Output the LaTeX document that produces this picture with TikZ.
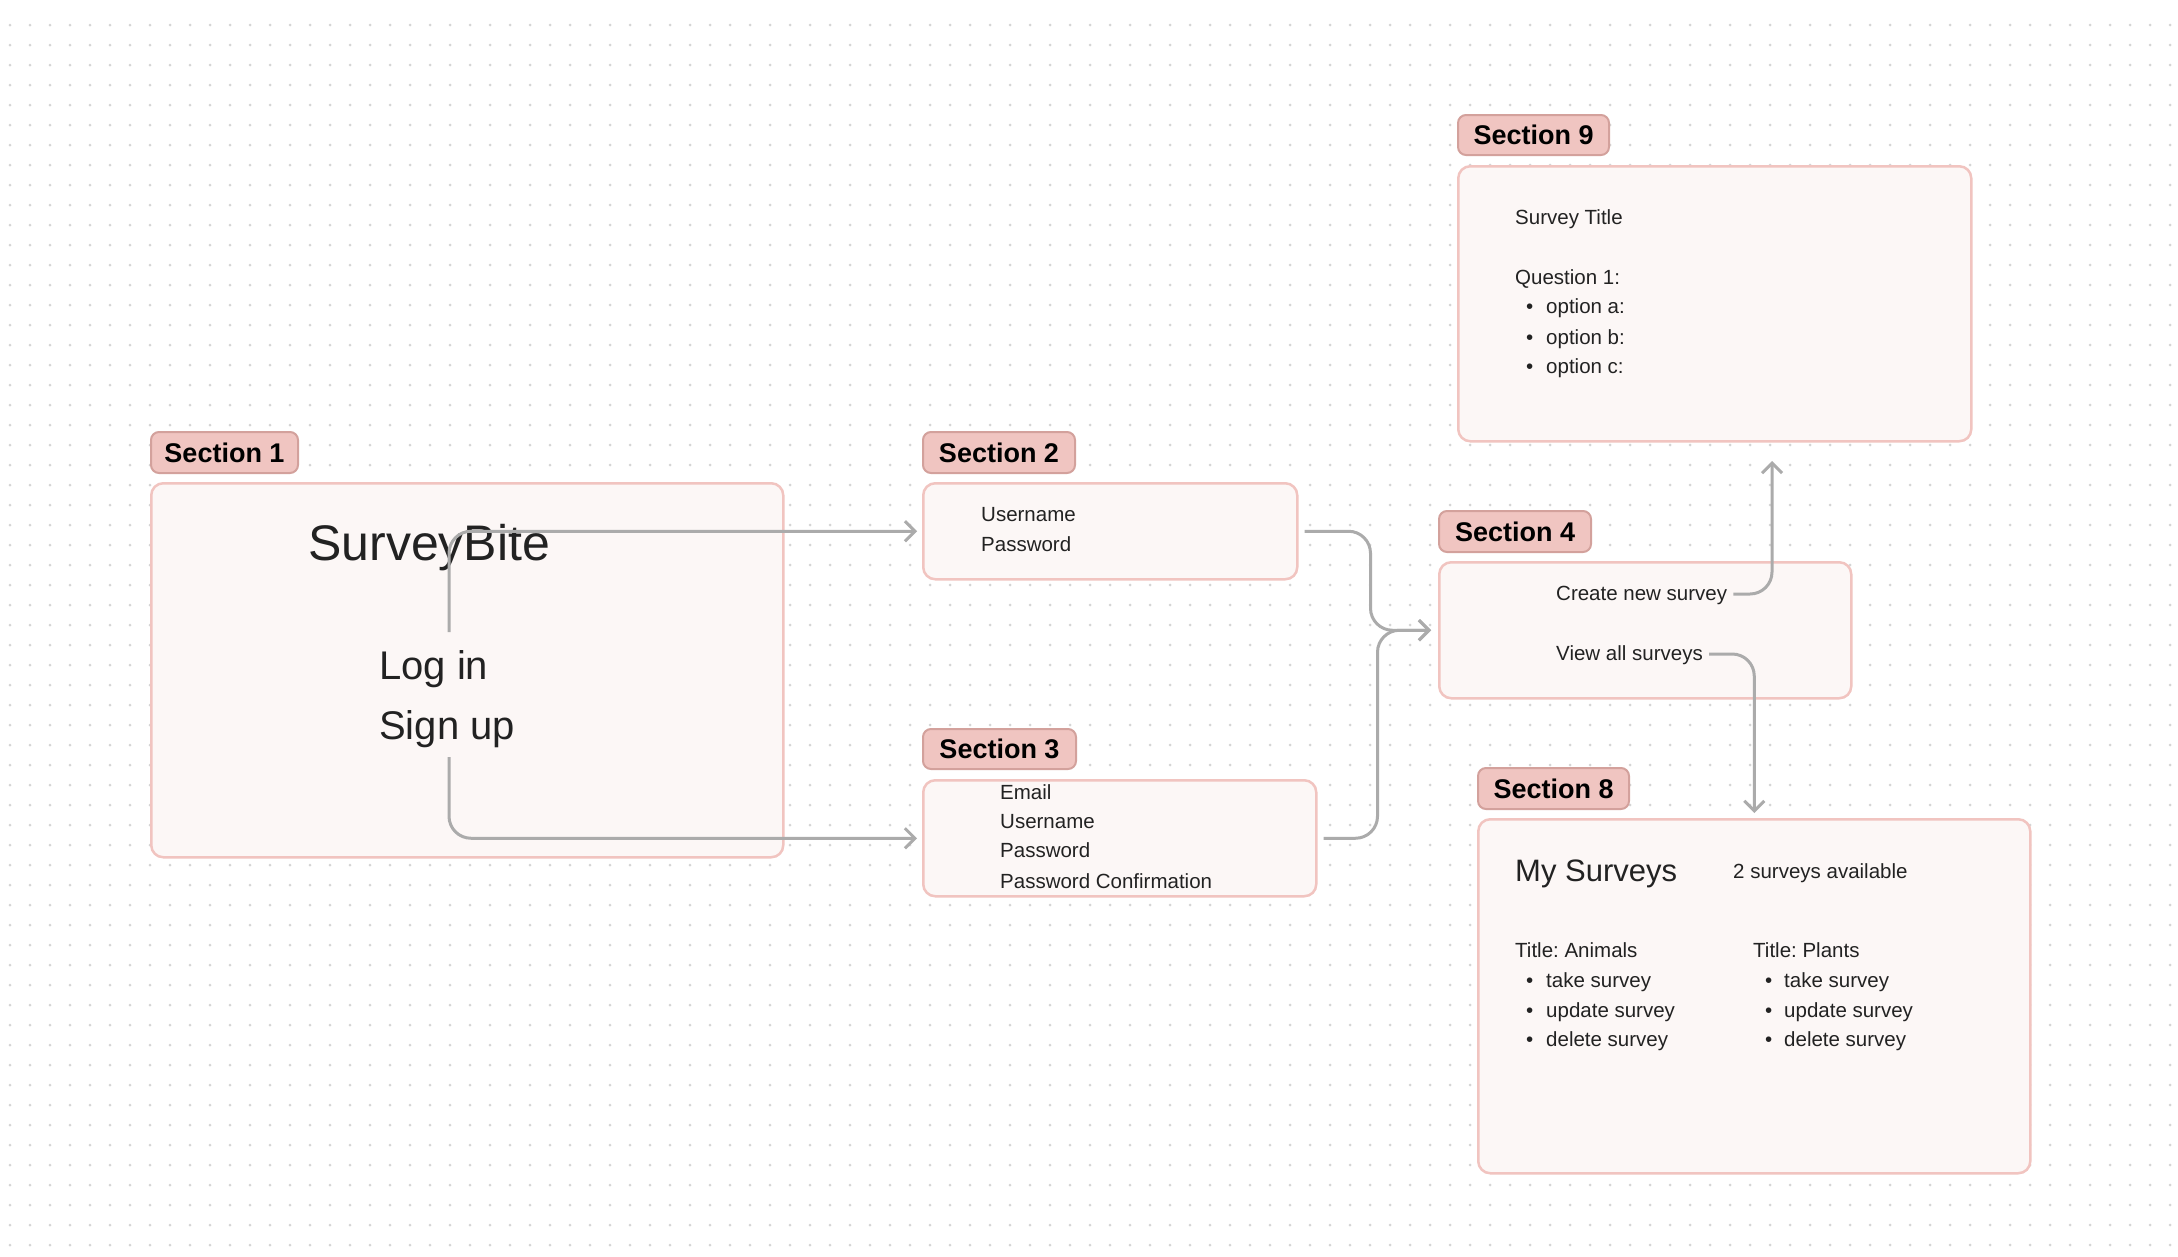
\documentclass[tikz,border=0pt]{standalone}
\usepackage{fontspec}
\setmainfont{Liberation Sans}
\usetikzlibrary{arrows.meta}
\definecolor{tagfill}{HTML}{F0C5C1}
\definecolor{tagline}{HTML}{D3A19C}
\definecolor{boxfill}{HTML}{FCF7F6}
\definecolor{boxline}{HTML}{F1C4C0}
\definecolor{conncol}{HTML}{ABABAB}
\definecolor{dotcol}{HTML}{D4D4D4}
\definecolor{txt}{HTML}{222222}
\frenchspacing
\begin{document}
\begin{tikzpicture}[x=1pt,y=-1pt,
  tagst/.style={draw=tagline, fill=tagfill, line width=2pt, rounded corners=8pt, inner sep=0pt, anchor=north west, font=\fontsize{27}{32}\selectfont\bfseries, text=black},
  boxst/.style={draw=boxline, fill=boxfill, line width=2.5pt, rounded corners=12pt, inner sep=0pt, anchor=north west},
  lbl/.style={anchor=west, inner sep=0pt, text height=1.26em, text depth=0pt, text=txt, font=\fontsize{20.5}{24}\selectfont},
  bul/.style={anchor=west, inner sep=0pt, text height=1.26em, text depth=0pt, text=txt, font=\fontsize{20.5}{24}\selectfont},
  conn/.style={draw=conncol, line width=3pt, rounded corners=22pt, -{Straight Barb[length=10pt,width=20pt]}},
  dotrow/.style={draw=dotcol, line width=3pt, line cap=round, dash pattern=on 0pt off 20pt},
]
\useasboundingbox (0,0) rectangle (2178,1256);
\fill[white] (0,0) rectangle (2178,1256);
\foreach \j in {0,...,61} {\draw[dotrow] (10,25+20*\j) -- (2175,25+20*\j);}

% boxes
\node[boxst, minimum width=632pt, minimum height=374pt] (b1) at (150,482) {};
\node[boxst, minimum width=374pt, minimum height=96pt] (b2) at (922,482) {};
\node[boxst, minimum width=393pt, minimum height=116pt] (b3) at (922,779) {};
\node[boxst, minimum width=412pt, minimum height=136pt] (b4) at (1438,561) {};
\node[boxst, minimum width=513pt, minimum height=275pt] (b9) at (1457,165) {};
\node[boxst, minimum width=552pt, minimum height=354pt] (b8) at (1477,818) {};

% tags
\node[tagst, minimum width=147pt, minimum height=41pt] (t1) at (150,431) {Section 1};
\node[tagst, minimum width=152pt, minimum height=41pt] (t2) at (922,431) {Section 2};
\node[tagst, minimum width=153pt, minimum height=40pt] (t3) at (922,728) {Section 3};
\node[tagst, minimum width=152pt, minimum height=41pt] (t4) at (1438,510) {Section 4};
\node[tagst, minimum width=151pt, minimum height=40pt] (t9) at (1457,114) {Section 9};
\node[tagst, minimum width=151pt, minimum height=41pt] (t8) at (1477,767) {Section 8};

% section 1
\node[lbl, font=\fontsize{50}{56}\selectfont] (title) at (308,554) {SurveyBite};
\node[lbl, font=\fontsize{40}{46}\selectfont] (login) at (379,673) {Log in};
\node[lbl, font=\fontsize{40}{46}\selectfont] (signup) at (379,733) {Sign up};

% section 2
\node[lbl] (s2u) at (981,515) {Username};
\node[lbl] (s2p) at (981,545) {Password};

% section 3
\node[lbl] (s3e) at (1000,793) {Email};
\node[lbl] (s3u) at (1000,822) {Username};
\node[lbl] (s3p) at (1000,851) {Password};
\node[lbl] (s3c) at (1000,882) {Password Confirmation};

% section 4
\node[lbl] (create) at (1556,594) {Create new survey};
\node[lbl] (view) at (1556,654) {View all surveys};

% section 9
\node[lbl] (st) at (1515,218) {Survey Title};
\node[lbl] (q1) at (1515,278) {Question 1:};
\node[bul] (q1ab) at (1526,307) {•};
\node[lbl] (q1a) at (1546,307) {option a:};
\node[bul] (q1bb) at (1526,338) {•};
\node[lbl] (q1b) at (1546,338) {option b:};
\node[bul] (q1cb) at (1526,367) {•};
\node[lbl] (q1c) at (1546,367) {option c:};

% section 8
\node[lbl, font=\fontsize{31}{36}\selectfont] (my) at (1515,875) {My Surveys};
\node[lbl] (avail) at (1733,872) {2 surveys available};
\node[lbl] (ta) at (1515,951) {Title: Animals};
\node[bul] (ta1b) at (1526,981) {•};
\node[lbl] (ta1) at (1546,981) {take survey};
\node[bul] (ta2b) at (1526,1011) {•};
\node[lbl] (ta2) at (1546,1011) {update survey};
\node[bul] (ta3b) at (1526,1040) {•};
\node[lbl] (ta3) at (1546,1040) {delete survey};
\node[lbl] (tp) at (1753,951) {Title: Plants};
\node[bul] (tp1b) at (1765,981) {•};
\node[lbl] (tp1) at (1784,981) {take survey};
\node[bul] (tp2b) at (1765,1011) {•};
\node[lbl] (tp2) at (1784,1011) {update survey};
\node[bul] (tp3b) at (1765,1040) {•};
\node[lbl] (tp3) at (1784,1040) {delete survey};

% connectors
\coordinate (la) at (449,632);
\coordinate (lb) at (449,757);
\coordinate (ct) at (1772,461);
\draw[conn] (la) |- ([xshift=-5pt]b2.west);
\draw[conn] (lb) |- ([xshift=-5pt]b3.west);
\draw[conn] ([xshift=6pt]b2.east) -- ++(66,0) |- ([xshift=-7pt]b4.west);
\draw[conn] ([xshift=6pt]b3.east) -- ++(54,0) |- ([xshift=-7pt]b4.west);
\draw[conn] ([xshift=6pt]create.east) -| (ct);
\draw[conn] ([xshift=6pt]view.east) -| ([yshift=5pt]b8.north);
\end{tikzpicture}
\end{document}
